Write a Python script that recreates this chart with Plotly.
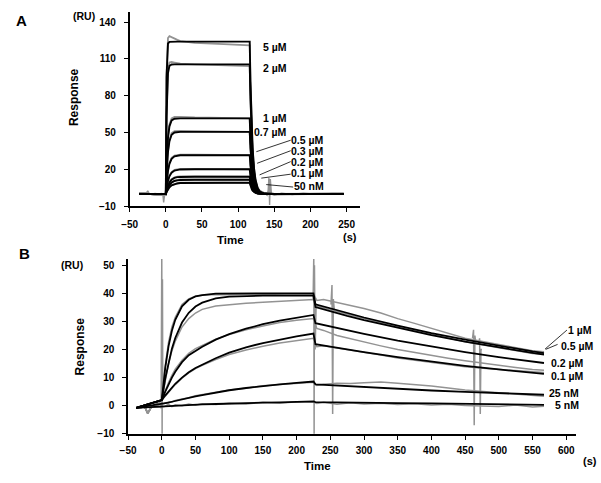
import plotly.graph_objects as go

# ---------------- Panel A data ----------------
tA = [-37, 0, 1, 2, 3, 5, 8, 12, 16, 20, 40, 80, 116, 117, 118, 119, 120, 122, 124, 127, 130, 135, 140, 150, 246]
labelsA = ["5 µM", "2 µM", "1 µM", "0.7 µM", "0.5 µM", "0.3 µM", "0.2 µM", "0.1 µM", "50 nM"]

fitA_5uM = [0, 0, 95, 118, 122.5, 123.8, 124, 124, 124, 124, 124, 124, 124, 91.9, 68.1, 50.5, 37.3, 20.5, 11.3, 4.6, 1.9, 0.4, 0.1, 0, 0]
fitA_2uM = [0, 0, 62.6, 88.1, 98.4, 104.3, 105.4, 105.5, 105.5, 105.5, 105.5, 105.5, 105.5, 78.2, 57.9, 42.9, 31.8, 17.4, 9.6, 3.9, 1.6, 0.3, 0.1, 0, 0]
fitA_1uM = [0, 0, 22.3, 36.5, 45.6, 55.0, 59.8, 61.2, 61.5, 61.5, 61.5, 61.5, 61.5, 45.6, 33.8, 25.0, 18.5, 10.1, 5.6, 2.3, 0.9, 0.2, 0, 0, 0]
fitA_07uM = [0, 0, 16.0, 26.9, 34.3, 42.9, 48.1, 50.0, 50.4, 50.5, 50.5, 50.5, 50.5, 37.4, 27.7, 20.6, 15.2, 8.3, 4.6, 1.9, 0.8, 0.2, 0, 0, 0]
fitA_05uM = [0, 0, 8.2, 14.2, 18.7, 24.5, 28.6, 30.6, 31.2, 31.4, 31.5, 31.5, 31.5, 23.3, 17.3, 12.8, 9.5, 5.2, 2.9, 1.2, 0.5, 0.1, 0, 0, 0]
fitA_03uM = [0, 0, 4.4, 7.9, 10.6, 14.3, 17.3, 19.0, 19.6, 19.9, 20, 20, 20, 14.8, 11.0, 8.1, 6.0, 3.3, 1.8, 0.7, 0.3, 0.1, 0, 0, 0]
fitA_02uM = [0, 0, 2.8, 5.0, 6.8, 9.3, 11.6, 13.0, 13.6, 13.8, 14, 14, 14, 10.4, 7.7, 5.7, 4.2, 2.3, 1.3, 0.5, 0.2, 0, 0, 0, 0]
fitA_01uM = [0, 0, 2.1, 3.8, 5.2, 7.3, 9.2, 10.5, 11.0, 11.3, 11.5, 11.5, 11.5, 8.5, 6.3, 4.7, 3.5, 1.9, 1.0, 0.4, 0.2, 0, 0, 0, 0]
fitA_50nM = [0, 0, 1.5, 2.7, 3.8, 5.3, 6.9, 8.0, 8.5, 8.8, 9.0, 9.0, 9.0, 6.7, 4.9, 3.7, 2.7, 1.5, 0.8, 0.3, 0.1, 0, 0, 0, 0]

rawA_5uM = [0.5, -1, 98, 121, 127, 128.5, 127.5, 126.5, 125.5, 124.5, 123, 122, 121, 90, 67, 50, 37, 21, 12, 5, 2.5, 1, 0.5, -0.5, 0.3]
rawA_2uM = [0.5, -1, 64, 91, 102, 107, 107.5, 107, 106.5, 106, 105.5, 105, 104, 77, 57, 42.5, 31.5, 17.5, 10, 4.5, 2, 0.8, 0.3, 0, 0.3]
rawA_1uM = [0.5, -1, 23, 38, 47, 56.5, 61.5, 62.8, 63, 62.8, 62.3, 62, 61.5, 45, 33.5, 25, 18.5, 10.5, 6, 2.8, 1.2, 0.5, 0, 0, 0]
rawA_07uM = [0.5, -1, 16.5, 27.5, 35, 44, 49.5, 51, 51.3, 51.2, 51, 50.8, 50.5, 37, 27.5, 20.5, 15.5, 8.5, 5, 2.2, 1, 0.3, 0, 0, 0]
rawA_05uM = [0.5, -1, 8.5, 14.5, 19.2, 25.2, 29.3, 31.2, 31.8, 32, 32, 31.8, 31.5, 23, 17.5, 13, 9.8, 5.5, 3.2, 1.5, 0.7, 0.2, 0, 0, 0]
rawA_03uM = [0.5, -1, 4.6, 8.2, 11, 14.8, 17.8, 19.5, 20.2, 20.4, 20.3, 20.2, 20, 15, 11.2, 8.3, 6.2, 3.5, 2, 0.9, 0.4, 0.1, 0, 0, 0]
rawA_02uM = [0.5, -1, 3, 5.2, 7.1, 9.7, 12, 13.5, 14.1, 14.3, 14.2, 14.1, 14, 10.6, 7.9, 5.9, 4.4, 2.5, 1.4, 0.6, 0.3, 0.1, 0, 0, 0]
rawA_01uM = [0.5, -1, 2.3, 4, 5.4, 7.6, 9.5, 10.9, 11.4, 11.7, 11.6, 11.6, 11.5, 8.6, 6.4, 4.8, 3.6, 2.0, 1.1, 0.5, 0.2, 0, 0, 0, 0]
rawA_50nM = [0.5, -1, 1.7, 2.9, 4, 5.5, 7.2, 8.3, 8.8, 9.1, 9.1, 9.0, 9.0, 6.8, 5.0, 3.8, 2.8, 1.6, 0.9, 0.4, 0.2, 0, 0, 0, 0]

noiseA_t = [-37, -33, -30, -27, -25, -23, -20, -15, -10, -6, -4, -3, -2, 0, None,
            128, 132, 136, 140, 141.5, 142.5, 143.5, 144.5, 146, 150, 160, 175, 190, 210, 230, 246]
noiseA_v = [0, 0.4, -0.3, 0.6, 2.5, 0.2, -0.4, 0.3, 0, 0.3, -1, -7, -2, 0, None,
            1.5, 0.5, 1, -1, 3, 13, -9, 12, 0, -1, 0.5, -0.5, 0.6, -0.4, 0.3, 0]

xticksA = [-50, 0, 50, 100, 150, 200, 250]
yticksA = [-10, 20, 50, 80, 110, 140]

# ---------------- Panel B data ----------------
tB = [-38, 0, 5, 10, 15, 20, 30, 40, 50, 60, 80, 100, 125, 150, 175, 200, 225,
      228, 250, 275, 300, 350, 400, 450, 500, 550, 567]
labelsB = ["1 µM", "0.5 µM", "0.2 µM", "0.1 µM", "25 nM", "5 nM"]

fitB_1uM = [-0.8, 2, 13.2, 21.1, 26.7, 30.6, 35.4, 37.7, 38.9, 39.4, 39.9, 40, 40, 40, 40, 40, 40,
            36.1, 34.6, 33.0, 31.4, 28.5, 25.8, 23.5, 21.3, 19.3, 18.7]
fitB_05uM = [-0.8, 2, 9.5, 15.5, 20.3, 24.1, 29.6, 33.1, 35.3, 36.7, 38.2, 38.8, 39.1, 39.2, 39.2, 39.2, 39.2,
             35.1, 33.6, 32.0, 30.5, 27.7, 25.1, 22.8, 20.7, 18.8, 18.2]
fitB_02uM = [-0.8, 2, 4.9, 7.6, 10.0, 12.1, 15.5, 18.0, 19.6, 21.0, 23.5, 25.5, 27.4, 29.0, 30.3, 31.4, 32.3,
             29.4, 28.2, 26.8, 25.6, 23.2, 21.1, 19.1, 17.3, 15.8, 15.2]
fitB_01uM = [-0.8, 2, 3.6, 5.1, 6.5, 7.8, 10.0, 11.9, 13.4, 14.6, 16.9, 18.9, 20.8, 22.3, 23.6, 24.7, 25.7,
             21.9, 21.0, 20.0, 19.1, 17.3, 15.7, 14.2, 12.9, 11.7, 11.3]
fitB_25nM = [-0.8, 0.5, 0.8, 1.1, 1.4, 1.7, 2.2, 2.8, 3.3, 3.8, 4.7, 5.5, 6.3, 7.0, 7.6, 8.1, 8.6,
             7.6, 7.3, 6.9, 6.6, 6.0, 5.4, 4.9, 4.5, 4.1, 3.9]
fitB_5nM = [-0.8, -0.3, -0.2, -0.1, 0, 0.1, 0.2, 0.3, 0.4, 0.5, 0.6, 0.8, 0.9, 1.1, 1.2, 1.4, 1.5,
            1.3, 1.2, 1.1, 1.0, 0.9, 0.8, 0.6, 0.5, 0.4, 0.3]

tBraw = [-38, -25, -21, -15, 0, 5, 10, 15, 20, 30, 40, 50, 60, 80, 100, 125, 150, 175, 200, 225,
         230, 240, 260, 280, 300, 325, 350, 375, 400, 425, 450, 500, 525, 550, 567]
rawB_1uM = [-0.8, -0.5, -2.7, -0.4, 2, 14, 22.5, 28, 31.5, 36, 38, 39, 39.3, 39.6, 39.5, 39.7, 39.6, 39.8, 39.9, 39.8,
            37.5, 37.8, 36.8, 35.8, 34.6, 33.0, 31.0, 29.3, 27.5, 25.8, 24.0, 21.8, 20.6, 19.6, 19.2]
rawB_05uM = [-0.8, -0.5, -2.7, -0.4, 2, 9, 15, 19.5, 23, 28, 31, 33, 34.3, 35.5, 36, 36.5, 36.8, 37.2, 37.5, 37.8,
             35.5, 34.8, 33.5, 32.3, 31.0, 29.5, 28.1, 26.8, 25.3, 24.0, 22.8, 20.6, 19.6, 18.6, 18.3]
rawB_02uM = [-0.8, -0.5, -2.7, -0.4, 2, 5.2, 8.2, 10.8, 13.0, 16.2, 18.6, 20.3, 21.5, 23.7, 25.3, 27.0, 28.4, 29.6, 30.4, 31.0,
             27.5, 26.8, 25.0, 23.8, 22.6, 21.3, 20.0, 18.9, 17.8, 16.9, 16.0, 14.3, 13.6, 12.9, 12.6]
rawB_01uM = [-0.8, -0.5, -2.7, -0.4, 2, 3.4, 4.8, 6.2, 7.5, 9.8, 11.7, 13.2, 14.4, 16.4, 18.2, 19.8, 21.2, 22.3, 23.2, 24.0,
             21.0, 21.3, 20.5, 19.8, 19.0, 18.0, 17.0, 16.2, 15.4, 14.6, 13.9, 12.9, 12.4, 12.0, 11.8]
rawB_25nM = [-0.8, -0.5, -2.7, -0.4, 0.5, 0.9, 1.3, 1.3, 1.9, 2.4, 2.8, 3.5, 3.9, 4.9, 5.6, 6.2, 7.1, 7.5, 8.0, 8.3,
             7.2, 7.6, 8.0, 7.9, 8.2, 8.4, 8.0, 7.6, 7.0, 6.3, 5.6, 4.6, 4.1, 3.7, 3.4]
rawB_5nM = [-0.8, -0.5, -2.7, -0.4, -0.5, -0.2, 0.5, -0.3, 0.3, 0.0, 0.6, 0.2, 0.7, 0.4, 0.9, 0.6, 1.2, 0.9, 1.4, 1.3,
            0.8, 1.2, 0.5, 1.0, 0.6, 0.9, 0.4, 0.7, 0.2, 0.5, 0.1, -0.3, 0.2, -0.5, -0.2]

spikeB_t = [-1, 0, 0.5, 1, 1.5, None, 224.5, 225.5, 226, 226.5, 227.5, 229, None,
            251, 252.5, 253.5, 254.5, 256, None, 461, 462.5, 463.5, 464.5, 466, None,
            470, 471.5, 472.5, 473.5, 475]
spikeB_v = [-1, 53, -11, 45, 2, None, 38, 53, -11, 50, 20, 36, None,
            36, 43, -3, 38, 34, None, 24, 27, -7, 25, 22, None,
            22, 24, -3, 20, 20]

xticksB = list(range(-50, 601, 50))
yticksB = [-10, 0, 10, 20, 30, 40, 50]

fitsA = [fitA_5uM, fitA_2uM, fitA_1uM, fitA_07uM, fitA_05uM, fitA_03uM, fitA_02uM, fitA_01uM, fitA_50nM]
rawsA = [rawA_5uM, rawA_2uM, rawA_1uM, rawA_07uM, rawA_05uM, rawA_03uM, rawA_02uM, rawA_01uM, rawA_50nM]
fitsB = [fitB_1uM, fitB_05uM, fitB_02uM, fitB_01uM, fitB_25nM, fitB_5nM]
rawsB = [rawB_1uM, rawB_05uM, rawB_02uM, rawB_01uM, rawB_25nM, rawB_5nM]

GRAY = "#939393"
W, H = 601, 483
FONT = "Liberation Sans, Arial, sans-serif"


def px(x):
    return x / W


def py(y):
    return 1 - y / H


fig = go.Figure()

# Panel A
for name, raw in zip(labelsA, rawsA):
    fig.add_trace(go.Scatter(x=tA, y=raw, mode="lines", line=dict(color=GRAY, width=1.8),
                             xaxis="x", yaxis="y", showlegend=False, hoverinfo="skip"))
fig.add_trace(go.Scatter(x=noiseA_t, y=noiseA_v, mode="lines", line=dict(color=GRAY, width=1.4),
                         xaxis="x", yaxis="y", showlegend=False, hoverinfo="skip", connectgaps=False))
for name, fit in zip(labelsA, fitsA):
    fig.add_trace(go.Scatter(x=tA, y=fit, mode="lines", name=name, line=dict(color="black", width=1.9),
                             xaxis="x", yaxis="y", showlegend=False))

# Panel B
for name, raw in zip(labelsB, rawsB):
    fig.add_trace(go.Scatter(x=tBraw, y=raw, mode="lines", line=dict(color=GRAY, width=1.5),
                             xaxis="x2", yaxis="y2", showlegend=False, hoverinfo="skip"))
fig.add_trace(go.Scatter(x=spikeB_t, y=spikeB_v, mode="lines", line=dict(color=GRAY, width=1.5),
                         xaxis="x2", yaxis="y2", showlegend=False, hoverinfo="skip", connectgaps=False))
for name, fit in zip(labelsB, fitsB):
    fig.add_trace(go.Scatter(x=tB, y=fit, mode="lines", name=name, line=dict(color="black", width=1.8),
                             xaxis="x2", yaxis="y2", showlegend=False))

axis_common = dict(showline=True, linecolor="black", linewidth=1.6, ticks="outside", ticklen=4,
                   tickwidth=1.3, tickcolor="black", showgrid=False, zeroline=False,
                   tickfont=dict(family=FONT, size=10, color="black", weight="bold"))

fig.update_layout(
    width=W, height=H, margin=dict(l=0, r=0, t=0, b=0),
    paper_bgcolor="white", plot_bgcolor="white", showlegend=False,
    xaxis=dict(domain=[px(123.3), px(356.4)], range=[-50, 268], anchor="y",
               tickmode="array", tickvals=xticksA, ticklabelstandoff=4, **axis_common),
    yaxis=dict(domain=[py(208.3), py(11.7)], range=[-10, 148.5], anchor="x",
               tickmode="array", tickvals=yticksA, ticklabelstandoff=6, **axis_common),
    xaxis2=dict(domain=[px(121.7), px(576)], range=[-50, 615], anchor="y2",
                tickmode="array", tickvals=xticksB, ticklabelstandoff=2, **axis_common),
    yaxis2=dict(domain=[py(438.3), py(261.8)], range=[-10, 52.2], anchor="x2",
                tickmode="array", tickvals=yticksB, ticklabelstandoff=6, **axis_common),
)


def txt(x, y, s, size=10.5, angle=0, xanchor="center"):
    fig.add_annotation(x=px(x), y=py(y), xref="paper", yref="paper", text=s, showarrow=False,
                       textangle=angle, xanchor=xanchor, yanchor="middle",
                       font=dict(family=FONT, size=size, color="black", weight="bold"))


def seg(x0, y0, x1, y1):
    fig.add_shape(type="line", xref="paper", yref="paper", x0=px(x0), y0=py(y0), x1=px(x1), y1=py(y1),
                  line=dict(color="black", width=0.8))


# Panel A texts
txt(13.5, 20.5, "A", size=15)
txt(77, 16, "(RU)", size=10.5)
txt(67, 98, "Response", size=12, angle=-90)
txt(225, 243, "Time", size=11.5)
txt(347, 239, "(s)", size=11)
posA = [(271, 47.3), (271, 68.3), (271, 119), (266, 133), (304, 141.7), (304, 152.3),
        (304, 163.3), (304, 175.3), (305, 188.3)]
for (x, y), lab in zip(posA, labelsA):
    txt(x, y, lab, size=10.5)
seg(251.7, 153.3, 286.5, 141.7)
seg(252.5, 165, 286.5, 152.3)
seg(255, 176.7, 286.5, 163.3)
seg(256.7, 180, 286.5, 176)
seg(261.7, 186.5, 289, 189)

# Panel B texts
txt(17, 256, "B", size=15)
txt(65, 268, "(RU)", size=10.5)
txt(73, 350, "Response", size=12, angle=-90)
txt(314, 471, "Time", size=11.5)
txt(590, 466, "(s)", size=11)
posB = [(580, 333.3), (577, 349.3), (567, 366.7), (567, 380), (563, 396.7), (567, 409.3)]
for (x, y), lab in zip(posB, labelsB):
    txt(x, y, lab, size=10.5)
seg(544.3, 352.7, 566.5, 333.5)
seg(545, 353, 557, 348)

fig.write_html("out.html", config={"displayModeBar": False},
               post_script="document.body.style.margin='0';document.body.style.overflow='hidden';")
